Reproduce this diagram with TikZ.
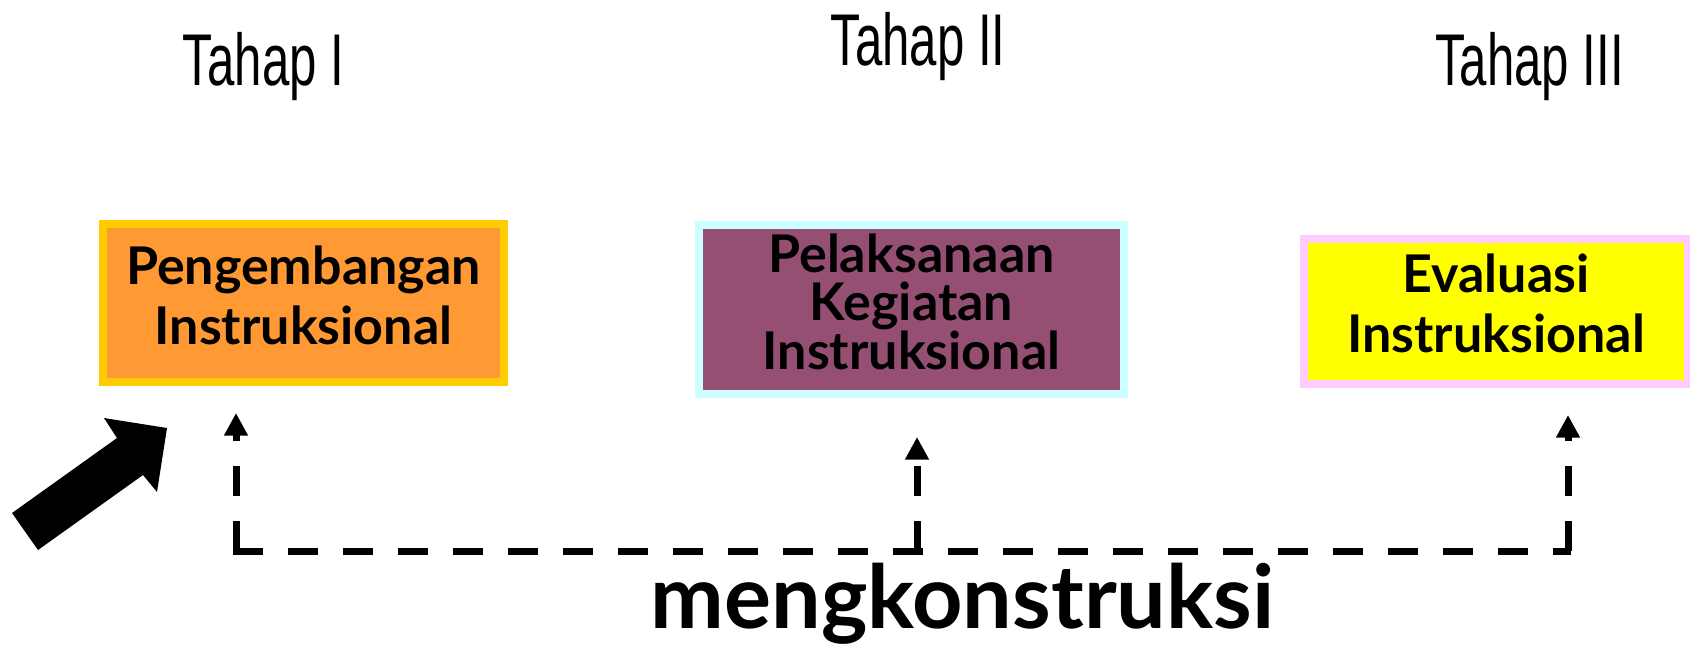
\documentclass[tikz,border=0pt]{standalone}
\usepackage{fontspec}
\setmainfont{Lato}
\newfontfamily\tahapfont{Liberation Sans}[FakeStretch=0.67]
\usetikzlibrary{arrows.meta}

\tikzset{
  tahap/.style={anchor=base, font=\tahapfont\fontsize{55}{60}\selectfont},
  kotak/.style={draw, line width=6pt, align=center, text depth=12pt,
    font=\bfseries\fontsize{39}{45}\selectfont},
  garis/.style={line width=5.25pt, dash pattern=on 22.5pt off 18.75pt},
  panah/.style={-{Triangle[width=17pt,length=17pt]}}
}

\begin{document}
\begin{tikzpicture}[x=0.75pt,y=0.75pt,yscale=-1,xscale=1]
\useasboundingbox (0,0) rectangle (1690,650);

%Titles
\node[tahap] (tahapI) at (263.5,85) {Tahap I};
\node[tahap] (tahapII) at (918,65) {Tahap II};
\node[tahap] (tahapIII) at (1529.5,85) {Tahap III};

%Boxes
\node[kotak, draw={rgb, 255:red, 255; green, 204; blue, 0 }, fill={rgb, 255:red, 255; green, 153; blue, 51 }, minimum width=300.75pt, minimum height=118.5pt] (pengembangan) at (303.5,303) {Pengembangan\\Instruksional};
\node[kotak, draw={rgb, 255:red, 204; green, 255; blue, 255 }, fill={rgb, 255:red, 149; green, 79; blue, 114 }, minimum width=318.75pt, minimum height=126.75pt, font=\bfseries\fontsize{39}{36}\selectfont] (pelaksanaan) at (911.5,309.5) {Pelaksanaan\\Kegiatan\\Instruksional};
\node[kotak, draw={rgb, 255:red, 255; green, 204; blue, 255 }, fill={rgb, 255:red, 255; green, 255; blue, 0 }, minimum width=288pt, minimum height=108.75pt] (evaluasi) at (1496,311.5) {Evaluasi\\Instruksional};

%Big arrow
\fill (12,513) -- (117,438) -- (104,418) -- (167,428) -- (157,492) -- (143,475) -- (38,550) -- cycle;

%Dashed lines
\coordinate (sudutI) at (236,551);
\coordinate (ujungI) at (236,413);
\coordinate (tengah) at (917,551);
\coordinate (ujungII) at (917,437);
\coordinate (sudutIII) at (1568,551);
\coordinate (ujungIII) at (1568,415);
\draw[garis] ([xshift=-2.6pt]sudutI) -- ([xshift=2.6pt]sudutIII);
\draw[garis,panah] (sudutI) -- (ujungI);
\draw[garis,panah] (tengah) -- (ujungII);
\draw[garis,panah] (sudutIII) -- (ujungIII);

\node[anchor=base, font=\bfseries\fontsize{66}{70}\selectfont] (mengkonstruksi) at (962.5,628) {mengkonstruksi};

\end{tikzpicture}
\end{document}
